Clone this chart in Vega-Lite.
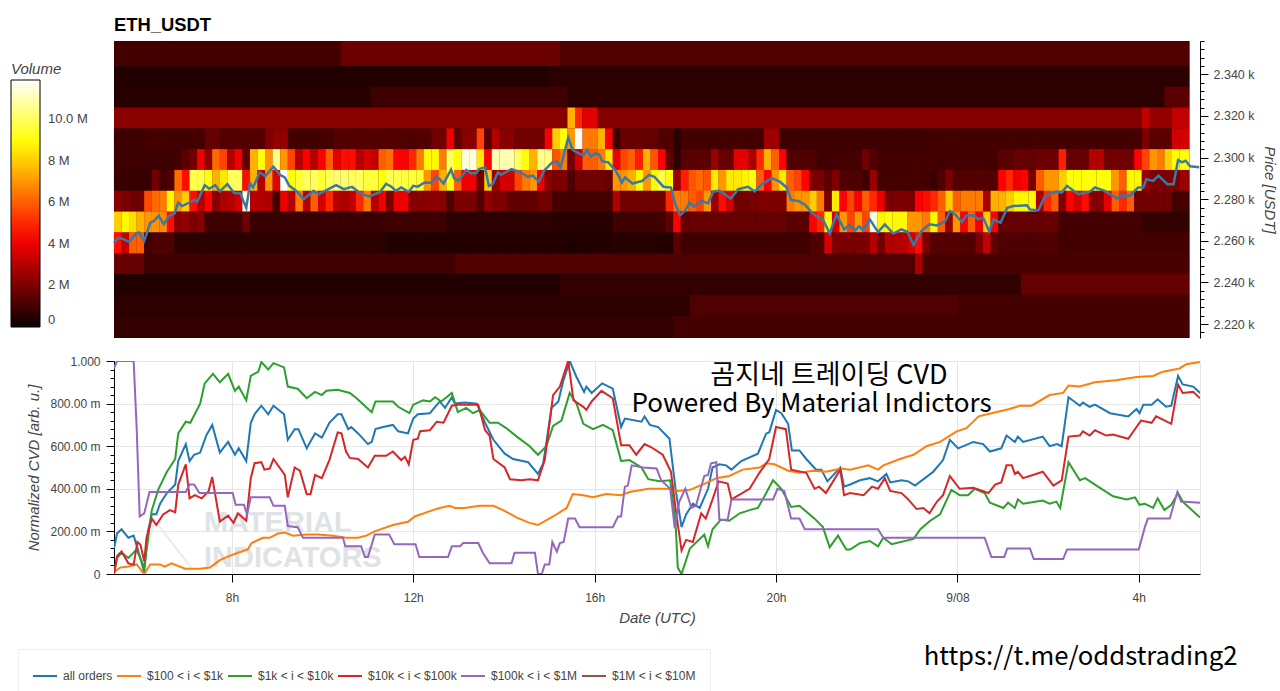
{"$schema":"https://vega.github.io/schema/vega-lite/v6.json","background":"white","padding":{"left":11,"top":15,"right":0,"bottom":0},"config":{"font":"Liberation Sans"},"bounds":"flush","spacing":23,
"datasets":{
"back":[{"m":324,"e":1747,"p":2200,"p2":2360,"v":0.8}],
"dark":[
{"m":324,"e":624,"p":2359,"v":1},{"m":624,"e":914,"p":2359,"v":1.7},{"m":914,"e":1747,"p":2359,"v":1.2},
{"m":324,"e":624,"p":2349,"v":1},{"m":624,"e":914,"p":2349,"v":1.7},{"m":914,"e":1747,"p":2349,"v":1.2},
{"m":324,"e":900,"p":2339,"v":0.4},{"m":900,"e":1747,"p":2339,"v":0.6},
{"m":324,"e":664,"p":2329,"v":0.5},{"m":664,"e":924,"p":2329,"v":0.9},{"m":924,"e":1714,"p":2329,"v":0.6},{"m":1714,"e":1747,"p":2329,"v":1.4},
{"m":324,"e":924,"p":2319,"v":2.2},{"m":924,"e":934,"p":2319,"v":7.5},{"m":934,"e":944,"p":2319,"v":5},{"m":944,"e":964,"p":2319,"v":3.8},{"m":964,"e":1684,"p":2319,"v":2.1},{"m":1684,"e":1694,"p":2319,"v":3.2},{"m":1694,"e":1724,"p":2319,"v":2.4},{"m":1724,"e":1747,"p":2319,"v":3.2},
{"m":324,"e":364,"p":2249,"v":1.6},{"m":364,"e":774,"p":2249,"v":0.9},{"m":774,"e":1384,"p":2249,"v":1.2},{"m":1384,"e":1394,"p":2249,"v":2.8},{"m":1394,"e":1747,"p":2249,"v":1.1},
{"m":324,"e":914,"p":2239,"v":0.4},{"m":914,"e":1524,"p":2239,"v":0.7},{"m":1524,"e":1747,"p":2239,"v":1.6},
{"m":324,"e":1086,"p":2229,"v":0.6},{"m":1086,"e":1440,"p":2229,"v":1.2},{"m":1440,"e":1747,"p":2229,"v":1},
{"m":324,"e":1064,"p":2219,"v":0.7},{"m":1064,"e":1747,"p":2219,"v":1},
{"m":324,"e":1064,"p":2209,"v":0.7},{"m":1064,"e":1747,"p":2209,"v":1},
{"m":1742,"e":1747,"p":2309,"v":3.5},{"m":1742,"e":1747,"p":2299,"v":9},{"m":1742,"e":1747,"p":2289,"v":2.5},{"m":1742,"e":1747,"p":2279,"v":1},{"m":1742,"e":1747,"p":2269,"v":0.7},{"m":1742,"e":1747,"p":2259,"v":1}
],
"cols":[
{"m":329,"2309":0.9,"2299":0.9,"2289":0.8,"2279":2.2,"2269":8,"2259":4.5},
{"m":339,"2309":0.9,"2299":0.9,"2289":0.8,"2279":2,"2269":8.8,"2259":3.2},
{"m":349,"2309":0.9,"2299":0.9,"2289":0.8,"2279":1.8,"2269":8.3,"2259":6},
{"m":359,"2309":0.9,"2299":0.9,"2289":0.8,"2279":1.8,"2269":7.5,"2259":6},
{"m":369,"2309":1,"2299":0.9,"2289":0.8,"2279":5.6,"2269":7,"2259":1},
{"m":379,"2309":1,"2299":0.9,"2289":1.8,"2279":6.2,"2269":7,"2259":1.2},
{"m":389,"2309":1,"2299":0.9,"2289":1,"2279":6.5,"2269":6.8,"2259":1.2},
{"m":399,"2309":1,"2299":0.9,"2289":1.2,"2279":8.8,"2269":4.5,"2259":1.2},
{"m":409,"2309":1,"2299":1,"2289":6.2,"2279":7,"2269":2.2,"2259":0.6},
{"m":419,"2309":1,"2299":1.4,"2289":4.5,"2279":8,"2269":2.4,"2259":0.6},
{"m":429,"2309":1,"2299":1.8,"2289":9.8,"2279":4.5,"2269":2,"2259":0.6},
{"m":439,"2309":1,"2299":4,"2289":9.8,"2279":3,"2269":2.2,"2259":0.6},
{"m":449,"2309":1.6,"2299":2.4,"2289":9,"2279":4.3,"2269":0.9,"2259":0.6},
{"m":459,"2309":1.6,"2299":6.2,"2289":7.5,"2279":2.2,"2269":0.9,"2259":0.6},
{"m":469,"2309":1.3,"2299":5.5,"2289":8.5,"2279":2.8,"2269":0.9,"2259":0.6},
{"m":479,"2309":1.3,"2299":3,"2289":10,"2279":3,"2269":0.9,"2259":0.6},
{"m":489,"2309":1.3,"2299":4,"2289":10,"2279":3.5,"2269":0.9,"2259":0.6},
{"m":499,"2309":1.3,"2299":1.5,"2289":4.5,"2279":11.5,"2269":1.8,"2259":0.6},
{"m":509,"2309":1.3,"2299":7.5,"2289":7.5,"2279":3,"2269":0.8,"2259":0.6},
{"m":519,"2309":1.3,"2299":9,"2289":3,"2279":3,"2269":0.8,"2259":0.6},
{"m":529,"2309":2,"2299":7,"2289":7,"2279":2.8,"2269":0.8,"2259":0.6},
{"m":539,"2309":2.4,"2299":10.5,"2289":3.8,"2279":1,"2269":0.8,"2259":0.6},
{"m":549,"2309":2.4,"2299":7,"2289":11.8,"2279":4,"2269":0.8,"2259":0.6},
{"m":559,"2309":1,"2299":5.5,"2289":9,"2279":3,"2269":0.8,"2259":0.6},
{"m":569,"2309":1,"2299":3,"2289":9.5,"2279":6.5,"2269":0.8,"2259":0.6},
{"m":579,"2309":1,"2299":4.3,"2289":10,"2279":3,"2269":0.8,"2259":0.6},
{"m":589,"2309":1,"2299":3,"2289":10,"2279":6,"2269":0.8,"2259":0.6},
{"m":599,"2309":1,"2299":4.3,"2289":9.5,"2279":3.5,"2269":0.8,"2259":0.6},
{"m":609,"2309":1,"2299":6,"2289":10,"2279":5,"2269":0.8,"2259":0.6},
{"m":619,"2309":1.3,"2299":3.8,"2289":10.2,"2279":3,"2269":0.8,"2259":0.6},
{"m":629,"2309":1.3,"2299":4.5,"2289":10.2,"2279":2.8,"2269":0.8,"2259":0.6},
{"m":639,"2309":1.3,"2299":4.5,"2289":10,"2279":3.2,"2269":0.8,"2259":0.6},
{"m":649,"2309":1.3,"2299":3,"2289":10,"2279":5,"2269":0.8,"2259":0.6},
{"m":659,"2309":1.3,"2299":3.6,"2289":9.6,"2279":6.5,"2269":0.8,"2259":0.6},
{"m":669,"2309":1.3,"2299":3.2,"2289":9.6,"2279":3,"2269":0.8,"2259":0.6},
{"m":679,"2309":1.3,"2299":6,"2289":9,"2279":4,"2269":0.8,"2259":0.6},
{"m":689,"2309":1.3,"2299":6.3,"2289":9.8,"2279":2,"2269":0.9,"2259":0.4},
{"m":699,"2309":1.3,"2299":4.3,"2289":9.8,"2279":4,"2269":0.9,"2259":0.4},
{"m":709,"2309":1.2,"2299":4.3,"2289":9.6,"2279":4,"2269":0.9,"2259":0.4},
{"m":719,"2309":1.2,"2299":5,"2289":9.6,"2279":2.2,"2269":0.9,"2259":0.4},
{"m":729,"2309":1.3,"2299":6.5,"2289":9.5,"2279":2.2,"2269":0.9,"2259":0.4},
{"m":739,"2309":1.3,"2299":8.8,"2289":7,"2279":2.2,"2269":0.9,"2259":0.4},
{"m":749,"2309":1.8,"2299":8.8,"2289":5.5,"2279":2.2,"2269":0.9,"2259":0.4},
{"m":759,"2309":1.8,"2299":6.5,"2289":7.5,"2279":2.2,"2269":0.9,"2259":0.4},
{"m":769,"2309":4,"2299":10,"2289":9,"2279":1.2,"2269":0.6,"2259":0.4},
{"m":779,"2309":1.5,"2299":9,"2289":6,"2279":2,"2269":0.6,"2259":0.4},
{"m":789,"2309":2.2,"2299":11.5,"2289":4,"2279":2,"2269":0.6,"2259":0.4},
{"m":799,"2309":2.2,"2299":11.5,"2289":4,"2279":2,"2269":0.6,"2259":0.4},
{"m":809,"2309":5.5,"2299":8.5,"2289":1.8,"2279":1.2,"2269":0.6,"2259":0.4},
{"m":819,"2309":1.4,"2299":4.3,"2289":8,"2279":2.4,"2269":0.6,"2259":0.4},
{"m":829,"2309":3,"2299":11,"2289":2.5,"2279":2,"2269":0.6,"2259":0.4},
{"m":839,"2309":2.2,"2299":11,"2289":3.5,"2279":2,"2269":0.6,"2259":0.4},
{"m":849,"2309":2.2,"2299":11,"2289":3.5,"2279":1.5,"2269":0.6,"2259":0.4},
{"m":859,"2309":1.8,"2299":10,"2289":5.5,"2279":1.5,"2269":0.6,"2259":0.4},
{"m":869,"2309":1.8,"2299":9,"2289":6.5,"2279":1.5,"2269":0.6,"2259":0.4},
{"m":879,"2309":1.8,"2299":7.5,"2289":7,"2279":1.5,"2269":0.6,"2259":0.4},
{"m":889,"2309":1.8,"2299":10.5,"2289":4,"2279":1.8,"2269":0.6,"2259":0.4},
{"m":899,"2309":4.2,"2299":10.5,"2289":2.2,"2279":1.8,"2269":0.6,"2259":0.4},
{"m":909,"2309":8,"2299":5.8,"2289":2,"2279":1,"2269":0.5,"2259":0.4},
{"m":919,"2309":9,"2299":6.5,"2289":2,"2279":1,"2269":0.5,"2259":0.4},
{"m":929,"2309":7,"2299":1.8,"2289":1.2,"2279":1,"2269":0.5,"2259":0.3},
{"m":939,"2309":11.8,"2299":3.5,"2289":1.8,"2279":1,"2269":0.5,"2259":0.4},
{"m":949,"2309":6.5,"2299":6,"2289":1.8,"2279":1,"2269":0.5,"2259":0.4},
{"m":959,"2309":6.5,"2299":6,"2289":1.8,"2279":1,"2269":0.5,"2259":0.4},
{"m":969,"2309":7.5,"2299":6.5,"2289":1.8,"2279":1,"2269":0.5,"2259":0.4},
{"m":979,"2309":4.3,"2299":8.5,"2289":1.6,"2279":1,"2269":0.5,"2259":0.4},
{"m":989,"2309":0.9,"2299":4,"2289":7,"2279":3,"2269":0.9,"2259":0.5},
{"m":999,"2309":1.6,"2299":5.5,"2289":7,"2279":1.8,"2269":0.9,"2259":0.5},
{"m":1009,"2309":1.6,"2299":6,"2289":7.5,"2279":1.8,"2269":0.9,"2259":0.5},
{"m":1019,"2309":1.6,"2299":4.8,"2289":8.8,"2279":1.8,"2269":0.9,"2259":0.5},
{"m":1029,"2309":1.6,"2299":7.5,"2289":7,"2279":1.8,"2269":0.9,"2259":0.5},
{"m":1039,"2309":1.6,"2299":5.8,"2289":8.8,"2279":1.8,"2269":0.9,"2259":0.5},
{"m":1049,"2309":1.2,"2299":4.3,"2289":9.8,"2279":1.8,"2269":1,"2259":0.4},
{"m":1059,"2309":1.2,"2299":1.5,"2289":9,"2279":5,"2269":1.5,"2259":0.4},
{"m":1069,"2309":0.6,"2299":0.6,"2289":2.5,"2279":6.5,"2269":4.3,"2259":1.4},
{"m":1079,"2309":1,"2299":1.4,"2289":4.8,"2279":6.5,"2269":1.6,"2259":0.9},
{"m":1089,"2309":1,"2299":1.4,"2289":5.8,"2279":6,"2269":1.6,"2259":0.9},
{"m":1099,"2309":1,"2299":1.4,"2289":6.2,"2279":5.5,"2269":1.6,"2259":0.9},
{"m":1109,"2309":1,"2299":1.4,"2289":5.8,"2279":7,"2269":1.6,"2259":0.9},
{"m":1119,"2309":1,"2299":2.5,"2289":8.5,"2279":2.5,"2269":1.6,"2259":0.9},
{"m":1129,"2309":1,"2299":1.6,"2289":7,"2279":4.5,"2269":1.6,"2259":0.9},
{"m":1139,"2309":1,"2299":1.6,"2289":8.5,"2279":3.5,"2269":1.6,"2259":0.9},
{"m":1149,"2309":1,"2299":3.8,"2289":8.5,"2279":1.8,"2269":1.6,"2259":0.9},
{"m":1159,"2309":1,"2299":3.8,"2289":8.7,"2279":1.8,"2269":1.6,"2259":0.9},
{"m":1169,"2309":1,"2299":2.8,"2289":9,"2279":2,"2269":1.6,"2259":0.9},
{"m":1179,"2309":1,"2299":5,"2289":6,"2279":2,"2269":1.6,"2259":0.9},
{"m":1189,"2309":2.6,"2299":7.5,"2289":4.3,"2279":2,"2269":1.6,"2259":0.9},
{"m":1199,"2309":2.6,"2299":6,"2289":7,"2279":2,"2269":1.6,"2259":0.9},
{"m":1209,"2309":0.9,"2299":4.3,"2289":8.5,"2279":2,"2269":1.6,"2259":0.9},
{"m":1219,"2309":0.9,"2299":1.2,"2289":6,"2279":6.5,"2269":1.4,"2259":0.9},
{"m":1229,"2309":0.9,"2299":1.2,"2289":5.5,"2279":7,"2269":1.4,"2259":0.9},
{"m":1239,"2309":0.9,"2299":1.2,"2289":4.3,"2279":7,"2269":1.4,"2259":0.9},
{"m":1249,"2309":0.9,"2299":1.2,"2289":2,"2279":8,"2269":4.3,"2259":1.2},
{"m":1259,"2309":0.9,"2299":0.9,"2289":2,"2279":6.5,"2269":5,"2259":1.3},
{"m":1269,"2309":0.9,"2299":0.9,"2289":1.4,"2279":2,"2269":8.8,"2259":3.6},
{"m":1279,"2309":0.9,"2299":1,"2289":2,"2279":8.5,"2269":3.5,"2259":2},
{"m":1289,"2309":0.9,"2299":1,"2289":1.2,"2279":4.3,"2269":7,"2259":2},
{"m":1299,"2309":0.9,"2299":1,"2289":1.2,"2279":5.5,"2269":5.5,"2259":2},
{"m":1309,"2309":0.9,"2299":1,"2289":1.2,"2279":4.3,"2269":7,"2259":2},
{"m":1319,"2309":0.9,"2299":1.8,"2289":0.9,"2279":6,"2269":5.5,"2259":2},
{"m":1329,"2309":0.9,"2299":1.2,"2289":2.5,"2279":5,"2269":11.5,"2259":3},
{"m":1339,"2309":0.9,"2299":1,"2289":1,"2279":4,"2269":8.8,"2259":1.8},
{"m":1349,"2309":0.9,"2299":1,"2289":1,"2279":2,"2269":9,"2259":3},
{"m":1359,"2309":0.9,"2299":1,"2289":1,"2279":2,"2269":8.8,"2259":3},
{"m":1369,"2309":0.9,"2299":1,"2289":1,"2279":2,"2269":8.8,"2259":3},
{"m":1379,"2309":0.9,"2299":1,"2289":1,"2279":2,"2269":7,"2259":3.5},
{"m":1389,"2309":0.9,"2299":1,"2289":1,"2279":4.3,"2269":7,"2259":4.5},
{"m":1399,"2309":0.9,"2299":1,"2289":1,"2279":4.5,"2269":6.5,"2259":2},
{"m":1409,"2309":1,"2299":1,"2289":0.8,"2279":5,"2269":8.8,"2259":1.3},
{"m":1419,"2309":1,"2299":1,"2289":1.2,"2279":6,"2269":6,"2259":1.3},
{"m":1429,"2309":1,"2299":1,"2289":2,"2279":8,"2269":2.5,"2259":1.3},
{"m":1439,"2309":1,"2299":1,"2289":1.3,"2279":6,"2269":7,"2259":1.3},
{"m":1449,"2309":1,"2299":1,"2289":1.3,"2279":6.5,"2269":4.3,"2259":1.3},
{"m":1459,"2309":1,"2299":1,"2289":1.3,"2279":6.5,"2269":6,"2259":1.3},
{"m":1469,"2309":1,"2299":1,"2289":1.3,"2279":6.5,"2269":4,"2259":2},
{"m":1479,"2309":1,"2299":1,"2289":1.3,"2279":2.8,"2269":8,"2259":3.3},
{"m":1489,"2309":1,"2299":1,"2289":1.3,"2279":7.5,"2269":4.3,"2259":1.5},
{"m":1499,"2309":1,"2299":1.4,"2289":4.3,"2279":7.5,"2269":1.6,"2259":1.2},
{"m":1509,"2309":1,"2299":1.4,"2289":5,"2279":8,"2269":1.6,"2259":1.2},
{"m":1519,"2309":1,"2299":1.6,"2289":4,"2279":8.8,"2269":1.6,"2259":1.2},
{"m":1529,"2309":1,"2299":1.6,"2289":4.3,"2279":8.8,"2269":1.6,"2259":1.2},
{"m":1539,"2309":1,"2299":1.6,"2289":2,"2279":8.8,"2269":1.6,"2259":1.2},
{"m":1549,"2309":1,"2299":1.7,"2289":6,"2279":2.8,"2269":1.6,"2259":1.2},
{"m":1559,"2309":1,"2299":1.7,"2289":7,"2279":5,"2269":1.6,"2259":1.2},
{"m":1569,"2309":1,"2299":1.7,"2289":7,"2279":6,"2269":1.6,"2259":1.2},
{"m":1579,"2309":1,"2299":4.8,"2289":8,"2279":2,"2269":1,"2259":1},
{"m":1589,"2309":1,"2299":1.6,"2289":9,"2279":4.3,"2269":1,"2259":1},
{"m":1599,"2309":1,"2299":1.6,"2289":9,"2279":3.5,"2269":1,"2259":1},
{"m":1609,"2309":1,"2299":1.6,"2289":9,"2279":4.5,"2269":1,"2259":1},
{"m":1619,"2309":1,"2299":3,"2289":9,"2279":2.2,"2269":1,"2259":1},
{"m":1629,"2309":1,"2299":3,"2289":9,"2279":2.2,"2269":1,"2259":1},
{"m":1639,"2309":1,"2299":1.8,"2289":9,"2279":3.8,"2269":1,"2259":1},
{"m":1649,"2309":1,"2299":1.8,"2289":7,"2279":6,"2269":1,"2259":1},
{"m":1659,"2309":1,"2299":1.8,"2289":6,"2279":5,"2269":1,"2259":1},
{"m":1669,"2309":1,"2299":1.8,"2289":8.8,"2279":6,"2269":1,"2259":1},
{"m":1679,"2309":1,"2299":4.3,"2289":8.8,"2279":1.8,"2269":1,"2259":1},
{"m":1689,"2309":2,"2299":5.5,"2289":2.5,"2279":1.8,"2269":0.7,"2259":1},
{"m":1699,"2309":1.4,"2299":7,"2289":2,"2279":1.8,"2269":0.7,"2259":1},
{"m":1709,"2309":1.4,"2299":6.5,"2289":2,"2279":1.8,"2269":0.7,"2259":1},
{"m":1719,"2309":1.4,"2299":8,"2289":2,"2279":1.8,"2269":0.7,"2259":1},
{"m":1729,"2309":3.5,"2299":9,"2289":2,"2279":1,"2269":0.7,"2259":1},
{"m":1739,"2309":3.5,"2299":9,"2289":2.5,"2279":1,"2269":0.7,"2259":1}
],
"price":[{"m":324,"p":2259},{"m":329,"p":2261.4},{"m":335,"p":2261},{"m":344,"p":2259.5},{"m":353,"p":2263.5},{"m":357,"p":2264},{"m":364,"p":2260},{"m":372,"p":2268.7},{"m":377,"p":2269.5},{"m":383,"p":2272},{"m":390,"p":2268},{"m":397,"p":2272},{"m":404,"p":2273},{"m":409,"p":2278.4},{"m":414,"p":2276.7},{"m":424,"p":2278.4},{"m":430,"p":2279.6},{"m":434,"p":2278.7},{"m":444,"p":2286.7},{"m":450,"p":2285},{"m":458,"p":2286.7},{"m":464,"p":2283.7},{"m":474,"p":2287.2},{"m":483,"p":2283},{"m":491,"p":2282.9},{"m":499,"p":2275.8},{"m":504,"p":2287.7},{"m":508,"p":2285.6},{"m":517,"p":2292.9},{"m":524,"p":2291},{"m":535,"p":2295.6},{"m":544,"p":2291.6},{"m":550,"p":2290.5},{"m":556,"p":2286.4},{"m":566,"p":2283.7},{"m":575,"p":2280},{"m":588,"p":2284},{"m":595,"p":2282.4},{"m":606,"p":2284.5},{"m":618,"p":2286.7},{"m":628,"p":2284.8},{"m":639,"p":2285.9},{"m":652,"p":2282.4},{"m":662,"p":2281.3},{"m":676,"p":2283.5},{"m":684,"p":2287.4},{"m":691,"p":2286},{"m":697,"p":2284},{"m":704,"p":2285.6},{"m":714,"p":2283.5},{"m":720,"p":2286.4},{"m":726,"p":2286},{"m":735,"p":2288},{"m":743,"p":2287.9},{"m":750,"p":2290.5},{"m":754,"p":2290},{"m":760,"p":2287.5},{"m":770,"p":2294.2},{"m":774,"p":2290},{"m":780,"p":2289},{"m":790,"p":2294},{"m":796,"p":2292.4},{"m":803,"p":2292.4},{"m":807,"p":2294.5},{"m":815,"p":2295.3},{"m":820,"p":2286.4},{"m":825,"p":2287.2},{"m":832,"p":2292.9},{"m":836,"p":2291.7},{"m":850,"p":2294.5},{"m":862,"p":2292.9},{"m":871,"p":2290.8},{"m":878,"p":2291.3},{"m":886,"p":2288.4},{"m":893,"p":2293.7},{"m":904,"p":2297.7},{"m":910,"p":2298},{"m":915,"p":2295.3},{"m":925,"p":2309.5},{"m":931,"p":2303.7},{"m":939,"p":2302},{"m":945,"p":2301},{"m":950,"p":2303.7},{"m":955,"p":2300.5},{"m":961,"p":2302},{"m":966,"p":2301.4},{"m":970,"p":2298.2},{"m":978,"p":2297.7},{"m":988,"p":2293.7},{"m":996,"p":2288},{"m":1000,"p":2290.5},{"m":1010,"p":2287.5},{"m":1023,"p":2288.8},{"m":1032,"p":2291.7},{"m":1039,"p":2290.8},{"m":1044,"p":2288.8},{"m":1051,"p":2286},{"m":1061,"p":2285.6},{"m":1066,"p":2278.4},{"m":1073,"p":2272.2},{"m":1079,"p":2274.3},{"m":1086,"p":2278.4},{"m":1092,"p":2276.4},{"m":1101,"p":2279.2},{"m":1110,"p":2278},{"m":1117,"p":2283.7},{"m":1125,"p":2284},{"m":1132,"p":2282.4},{"m":1140,"p":2280.3},{"m":1150,"p":2284.8},{"m":1163,"p":2285.9},{"m":1172,"p":2283.7},{"m":1181,"p":2287.2},{"m":1194,"p":2290.1},{"m":1205,"p":2288.4},{"m":1214,"p":2285.6},{"m":1220,"p":2279.6},{"m":1229,"p":2279.2},{"m":1238,"p":2277.5},{"m":1247,"p":2273.8},{"m":1253,"p":2271.9},{"m":1262,"p":2270.3},{"m":1271,"p":2263.5},{"m":1280,"p":2272.7},{"m":1290,"p":2265.5},{"m":1297,"p":2267.4},{"m":1305,"p":2265.1},{"m":1310,"p":2267},{"m":1315,"p":2265.1},{"m":1324,"p":2270.3},{"m":1335,"p":2264.2},{"m":1344,"p":2267.9},{"m":1355,"p":2263.5},{"m":1366,"p":2265.5},{"m":1374,"p":2264.2},{"m":1382,"p":2258},{"m":1392,"p":2264.6},{"m":1403,"p":2267.9},{"m":1413,"p":2267.4},{"m":1424,"p":2269.5},{"m":1430,"p":2274.3},{"m":1437,"p":2272.7},{"m":1446,"p":2269},{"m":1452,"p":2272.2},{"m":1461,"p":2272.2},{"m":1468,"p":2270.3},{"m":1474,"p":2271.1},{"m":1482,"p":2264.6},{"m":1488,"p":2270.3},{"m":1497,"p":2268.7},{"m":1506,"p":2275.9},{"m":1514,"p":2276.7},{"m":1532,"p":2277.1},{"m":1536,"p":2275.1},{"m":1547,"p":2274.6},{"m":1556,"p":2281.6},{"m":1571,"p":2283.7},{"m":1578,"p":2283.2},{"m":1585,"p":2286.4},{"m":1600,"p":2282.4},{"m":1615,"p":2283.5},{"m":1622,"p":2285.6},{"m":1635,"p":2284},{"m":1651,"p":2280.3},{"m":1657,"p":2281.9},{"m":1668,"p":2281.6},{"m":1679,"p":2285.6},{"m":1686,"p":2285.6},{"m":1690,"p":2289.6},{"m":1699,"p":2288.8},{"m":1706,"p":2291.3},{"m":1718,"p":2287.2},{"m":1726,"p":2287.2},{"m":1732,"p":2298.8},{"m":1737,"p":2297.7},{"m":1742,"p":2298.5},{"m":1748,"p":2295.8},{"m":1760,"p":2295.3}],
"lines":[
{"s":"a","m":324,"v":0.12},{"s":"a","m":328,"v":0.19},{"s":"a","m":334,"v":0.21},{"s":"a","m":343,"v":0.17},{"s":"a","m":350,"v":0.18},{"s":"a","m":356,"v":0.11},{"s":"a","m":364,"v":0.01},{"s":"a","m":369,"v":0.2},{"s":"a","m":374,"v":0.28},{"s":"a","m":380,"v":0.28},{"s":"a","m":385,"v":0.33},{"s":"a","m":394,"v":0.38},{"s":"a","m":405,"v":0.42},{"s":"a","m":409,"v":0.53},{"s":"a","m":419,"v":0.61},{"s":"a","m":424,"v":0.53},{"s":"a","m":430,"v":0.56},{"s":"a","m":438,"v":0.57},{"s":"a","m":446,"v":0.65},{"s":"a","m":454,"v":0.7},{"s":"a","m":464,"v":0.57},{"s":"a","m":475,"v":0.62},{"s":"a","m":484,"v":0.56},{"s":"a","m":489,"v":0.59},{"s":"a","m":499,"v":0.53},{"s":"a","m":505,"v":0.71},{"s":"a","m":510,"v":0.75},{"s":"a","m":519,"v":0.79},{"s":"a","m":528,"v":0.75},{"s":"a","m":535,"v":0.79},{"s":"a","m":549,"v":0.75},{"s":"a","m":554,"v":0.63},{"s":"a","m":563,"v":0.68},{"s":"a","m":568,"v":0.68},{"s":"a","m":579,"v":0.59},{"s":"a","m":590,"v":0.66},{"s":"a","m":599,"v":0.64},{"s":"a","m":609,"v":0.71},{"s":"a","m":620,"v":0.75},{"s":"a","m":625,"v":0.75},{"s":"a","m":634,"v":0.68},{"s":"a","m":638,"v":0.69},{"s":"a","m":647,"v":0.66},{"s":"a","m":660,"v":0.61},{"s":"a","m":665,"v":0.62},{"s":"a","m":670,"v":0.68},{"s":"a","m":680,"v":0.69},{"s":"a","m":693,"v":0.7},{"s":"a","m":700,"v":0.67},{"s":"a","m":713,"v":0.66},{"s":"a","m":720,"v":0.73},{"s":"a","m":726,"v":0.75},{"s":"a","m":742,"v":0.755},{"s":"a","m":749,"v":0.785},{"s":"a","m":755,"v":0.81},{"s":"a","m":762,"v":0.78},{"s":"a","m":771,"v":0.83},{"s":"a","m":775,"v":0.8},{"s":"a","m":788,"v":0.805},{"s":"a","m":804,"v":0.8},{"s":"a","m":815,"v":0.71},{"s":"a","m":826,"v":0.63},{"s":"a","m":841,"v":0.565},{"s":"a","m":852,"v":0.54},{"s":"a","m":872,"v":0.525},{"s":"a","m":885,"v":0.47},{"s":"a","m":892,"v":0.52},{"s":"a","m":903,"v":0.78},{"s":"a","m":912,"v":0.81},{"s":"a","m":918,"v":0.9},{"s":"a","m":927,"v":1},{"s":"a","m":936,"v":0.925},{"s":"a","m":946,"v":0.855},{"s":"a","m":949,"v":0.88},{"s":"a","m":956,"v":0.85},{"s":"a","m":970,"v":0.895},{"s":"a","m":984,"v":0.87},{"s":"a","m":995,"v":0.69},{"s":"a","m":1000,"v":0.73},{"s":"a","m":1022,"v":0.715},{"s":"a","m":1026,"v":0.74},{"s":"a","m":1033,"v":0.7},{"s":"a","m":1044,"v":0.69},{"s":"a","m":1059,"v":0.635},{"s":"a","m":1067,"v":0.4},{"s":"a","m":1075,"v":0.22},{"s":"a","m":1081,"v":0.28},{"s":"a","m":1090,"v":0.33},{"s":"a","m":1099,"v":0.31},{"s":"a","m":1110,"v":0.4},{"s":"a","m":1116,"v":0.5},{"s":"a","m":1125,"v":0.515},{"s":"a","m":1134,"v":0.51},{"s":"a","m":1141,"v":0.49},{"s":"a","m":1154,"v":0.53},{"s":"a","m":1176,"v":0.565},{"s":"a","m":1187,"v":0.66},{"s":"a","m":1191,"v":0.665},{"s":"a","m":1200,"v":0.77},{"s":"a","m":1207,"v":0.755},{"s":"a","m":1216,"v":0.705},{"s":"a","m":1221,"v":0.58},{"s":"a","m":1231,"v":0.58},{"s":"a","m":1240,"v":0.54},{"s":"a","m":1253,"v":0.49},{"s":"a","m":1260,"v":0.49},{"s":"a","m":1268,"v":0.435},{"s":"a","m":1285,"v":0.5},{"s":"a","m":1290,"v":0.41},{"s":"a","m":1298,"v":0.42},{"s":"a","m":1311,"v":0.44},{"s":"a","m":1324,"v":0.45},{"s":"a","m":1335,"v":0.435},{"s":"a","m":1346,"v":0.47},{"s":"a","m":1351,"v":0.43},{"s":"a","m":1366,"v":0.44},{"s":"a","m":1375,"v":0.435},{"s":"a","m":1384,"v":0.415},{"s":"a","m":1397,"v":0.45},{"s":"a","m":1408,"v":0.48},{"s":"a","m":1421,"v":0.535},{"s":"a","m":1430,"v":0.63},{"s":"a","m":1441,"v":0.59},{"s":"a","m":1461,"v":0.62},{"s":"a","m":1474,"v":0.61},{"s":"a","m":1483,"v":0.575},{"s":"a","m":1498,"v":0.59},{"s":"a","m":1505,"v":0.65},{"s":"a","m":1516,"v":0.62},{"s":"a","m":1520,"v":0.645},{"s":"a","m":1527,"v":0.62},{"s":"a","m":1553,"v":0.645},{"s":"a","m":1562,"v":0.6},{"s":"a","m":1572,"v":0.61},{"s":"a","m":1578,"v":0.6},{"s":"a","m":1587,"v":0.83},{"s":"a","m":1602,"v":0.79},{"s":"a","m":1606,"v":0.805},{"s":"a","m":1615,"v":0.785},{"s":"a","m":1622,"v":0.795},{"s":"a","m":1642,"v":0.755},{"s":"a","m":1666,"v":0.74},{"s":"a","m":1677,"v":0.775},{"s":"a","m":1681,"v":0.755},{"s":"a","m":1686,"v":0.795},{"s":"a","m":1697,"v":0.795},{"s":"a","m":1705,"v":0.82},{"s":"a","m":1716,"v":0.785},{"s":"a","m":1723,"v":0.79},{"s":"a","m":1732,"v":0.93},{"s":"a","m":1738,"v":0.89},{"s":"a","m":1752,"v":0.88},{"s":"a","m":1761,"v":0.85},
{"s":"b","m":324,"v":0.01},{"s":"b","m":332,"v":0.03},{"s":"b","m":343,"v":0.035},{"s":"b","m":354,"v":0.045},{"s":"b","m":364,"v":0},{"s":"b","m":372,"v":0.045},{"s":"b","m":385,"v":0.045},{"s":"b","m":391,"v":0.035},{"s":"b","m":400,"v":0.05},{"s":"b","m":418,"v":0.025},{"s":"b","m":438,"v":0.025},{"s":"b","m":451,"v":0.03},{"s":"b","m":464,"v":0.065},{"s":"b","m":477,"v":0.085},{"s":"b","m":488,"v":0.1},{"s":"b","m":501,"v":0.115},{"s":"b","m":506,"v":0.145},{"s":"b","m":521,"v":0.17},{"s":"b","m":530,"v":0.17},{"s":"b","m":541,"v":0.19},{"s":"b","m":550,"v":0.195},{"s":"b","m":561,"v":0.18},{"s":"b","m":579,"v":0.185},{"s":"b","m":594,"v":0.185},{"s":"b","m":614,"v":0.18},{"s":"b","m":631,"v":0.17},{"s":"b","m":647,"v":0.17},{"s":"b","m":658,"v":0.18},{"s":"b","m":669,"v":0.2},{"s":"b","m":693,"v":0.23},{"s":"b","m":713,"v":0.245},{"s":"b","m":722,"v":0.27},{"s":"b","m":742,"v":0.295},{"s":"b","m":755,"v":0.31},{"s":"b","m":768,"v":0.32},{"s":"b","m":775,"v":0.31},{"s":"b","m":788,"v":0.31},{"s":"b","m":808,"v":0.32},{"s":"b","m":826,"v":0.32},{"s":"b","m":839,"v":0.3},{"s":"b","m":857,"v":0.265},{"s":"b","m":874,"v":0.24},{"s":"b","m":885,"v":0.23},{"s":"b","m":905,"v":0.27},{"s":"b","m":923,"v":0.31},{"s":"b","m":931,"v":0.375},{"s":"b","m":945,"v":0.37},{"s":"b","m":958,"v":0.36},{"s":"b","m":975,"v":0.375},{"s":"b","m":995,"v":0.37},{"s":"b","m":1006,"v":0.385},{"s":"b","m":1031,"v":0.4},{"s":"b","m":1057,"v":0.4},{"s":"b","m":1070,"v":0.39},{"s":"b","m":1086,"v":0.395},{"s":"b","m":1103,"v":0.42},{"s":"b","m":1121,"v":0.45},{"s":"b","m":1138,"v":0.46},{"s":"b","m":1156,"v":0.49},{"s":"b","m":1178,"v":0.5},{"s":"b","m":1187,"v":0.52},{"s":"b","m":1198,"v":0.515},{"s":"b","m":1216,"v":0.485},{"s":"b","m":1231,"v":0.475},{"s":"b","m":1249,"v":0.485},{"s":"b","m":1266,"v":0.48},{"s":"b","m":1286,"v":0.495},{"s":"b","m":1298,"v":0.49},{"s":"b","m":1322,"v":0.51},{"s":"b","m":1335,"v":0.49},{"s":"b","m":1342,"v":0.51},{"s":"b","m":1364,"v":0.54},{"s":"b","m":1382,"v":0.56},{"s":"b","m":1399,"v":0.6},{"s":"b","m":1417,"v":0.62},{"s":"b","m":1439,"v":0.67},{"s":"b","m":1452,"v":0.685},{"s":"b","m":1468,"v":0.74},{"s":"b","m":1485,"v":0.755},{"s":"b","m":1509,"v":0.775},{"s":"b","m":1523,"v":0.79},{"s":"b","m":1538,"v":0.79},{"s":"b","m":1562,"v":0.84},{"s":"b","m":1580,"v":0.85},{"s":"b","m":1587,"v":0.885},{"s":"b","m":1602,"v":0.88},{"s":"b","m":1622,"v":0.9},{"s":"b","m":1650,"v":0.91},{"s":"b","m":1677,"v":0.925},{"s":"b","m":1699,"v":0.93},{"s":"b","m":1712,"v":0.95},{"s":"b","m":1734,"v":0.965},{"s":"b","m":1743,"v":0.985},{"s":"b","m":1761,"v":0.995},
{"s":"c","m":324,"v":0},{"s":"c","m":328,"v":0.075},{"s":"c","m":334,"v":0.1},{"s":"c","m":343,"v":0.075},{"s":"c","m":354,"v":0.115},{"s":"c","m":364,"v":0.03},{"s":"c","m":374,"v":0.3},{"s":"c","m":383,"v":0.4},{"s":"c","m":394,"v":0.48},{"s":"c","m":405,"v":0.54},{"s":"c","m":409,"v":0.66},{"s":"c","m":419,"v":0.715},{"s":"c","m":425,"v":0.71},{"s":"c","m":438,"v":0.8},{"s":"c","m":444,"v":0.895},{"s":"c","m":455,"v":0.94},{"s":"c","m":464,"v":0.9},{"s":"c","m":475,"v":0.94},{"s":"c","m":484,"v":0.86},{"s":"c","m":489,"v":0.88},{"s":"c","m":499,"v":0.815},{"s":"c","m":505,"v":0.93},{"s":"c","m":515,"v":0.95},{"s":"c","m":519,"v":0.995},{"s":"c","m":528,"v":0.96},{"s":"c","m":535,"v":0.99},{"s":"c","m":549,"v":0.97},{"s":"c","m":554,"v":0.88},{"s":"c","m":567,"v":0.87},{"s":"c","m":579,"v":0.825},{"s":"c","m":590,"v":0.855},{"s":"c","m":599,"v":0.84},{"s":"c","m":605,"v":0.86},{"s":"c","m":620,"v":0.865},{"s":"c","m":636,"v":0.85},{"s":"c","m":645,"v":0.825},{"s":"c","m":665,"v":0.76},{"s":"c","m":670,"v":0.81},{"s":"c","m":680,"v":0.81},{"s":"c","m":693,"v":0.81},{"s":"c","m":700,"v":0.785},{"s":"c","m":715,"v":0.755},{"s":"c","m":720,"v":0.795},{"s":"c","m":733,"v":0.815},{"s":"c","m":742,"v":0.81},{"s":"c","m":749,"v":0.83},{"s":"c","m":757,"v":0.81},{"s":"c","m":771,"v":0.85},{"s":"c","m":779,"v":0.76},{"s":"c","m":790,"v":0.78},{"s":"c","m":799,"v":0.755},{"s":"c","m":808,"v":0.77},{"s":"c","m":821,"v":0.71},{"s":"c","m":832,"v":0.71},{"s":"c","m":843,"v":0.685},{"s":"c","m":857,"v":0.645},{"s":"c","m":874,"v":0.6},{"s":"c","m":885,"v":0.56},{"s":"c","m":896,"v":0.6},{"s":"c","m":905,"v":0.695},{"s":"c","m":916,"v":0.72},{"s":"c","m":927,"v":0.85},{"s":"c","m":936,"v":0.8},{"s":"c","m":945,"v":0.705},{"s":"c","m":958,"v":0.68},{"s":"c","m":971,"v":0.7},{"s":"c","m":984,"v":0.675},{"s":"c","m":995,"v":0.53},{"s":"c","m":1006,"v":0.535},{"s":"c","m":1022,"v":0.5},{"s":"c","m":1031,"v":0.445},{"s":"c","m":1046,"v":0.435},{"s":"c","m":1060,"v":0.44},{"s":"c","m":1067,"v":0.245},{"s":"c","m":1070,"v":0.03},{"s":"c","m":1075,"v":0},{"s":"c","m":1086,"v":0.12},{"s":"c","m":1105,"v":0.185},{"s":"c","m":1110,"v":0.13},{"s":"c","m":1116,"v":0.21},{"s":"c","m":1127,"v":0.255},{"s":"c","m":1138,"v":0.25},{"s":"c","m":1152,"v":0.285},{"s":"c","m":1165,"v":0.3},{"s":"c","m":1176,"v":0.31},{"s":"c","m":1187,"v":0.38},{"s":"c","m":1196,"v":0.44},{"s":"c","m":1207,"v":0.4},{"s":"c","m":1220,"v":0.315},{"s":"c","m":1231,"v":0.32},{"s":"c","m":1251,"v":0.26},{"s":"c","m":1262,"v":0.22},{"s":"c","m":1271,"v":0.125},{"s":"c","m":1282,"v":0.18},{"s":"c","m":1293,"v":0.115},{"s":"c","m":1298,"v":0.115},{"s":"c","m":1311,"v":0.145},{"s":"c","m":1324,"v":0.155},{"s":"c","m":1335,"v":0.13},{"s":"c","m":1342,"v":0.17},{"s":"c","m":1353,"v":0.14},{"s":"c","m":1382,"v":0.165},{"s":"c","m":1391,"v":0.21},{"s":"c","m":1404,"v":0.25},{"s":"c","m":1417,"v":0.28},{"s":"c","m":1432,"v":0.395},{"s":"c","m":1443,"v":0.37},{"s":"c","m":1454,"v":0.37},{"s":"c","m":1463,"v":0.4},{"s":"c","m":1476,"v":0.38},{"s":"c","m":1483,"v":0.335},{"s":"c","m":1501,"v":0.31},{"s":"c","m":1507,"v":0.335},{"s":"c","m":1516,"v":0.31},{"s":"c","m":1520,"v":0.35},{"s":"c","m":1527,"v":0.33},{"s":"c","m":1553,"v":0.345},{"s":"c","m":1562,"v":0.33},{"s":"c","m":1571,"v":0.34},{"s":"c","m":1576,"v":0.31},{"s":"c","m":1587,"v":0.525},{"s":"c","m":1602,"v":0.44},{"s":"c","m":1609,"v":0.45},{"s":"c","m":1622,"v":0.42},{"s":"c","m":1646,"v":0.365},{"s":"c","m":1664,"v":0.35},{"s":"c","m":1675,"v":0.36},{"s":"c","m":1681,"v":0.325},{"s":"c","m":1688,"v":0.33},{"s":"c","m":1699,"v":0.31},{"s":"c","m":1705,"v":0.355},{"s":"c","m":1714,"v":0.3},{"s":"c","m":1723,"v":0.325},{"s":"c","m":1732,"v":0.38},{"s":"c","m":1738,"v":0.34},{"s":"c","m":1761,"v":0.265},
{"s":"d","m":324,"v":0},{"s":"d","m":328,"v":0.083},{"s":"d","m":334,"v":0.106},{"s":"d","m":343,"v":0.05},{"s":"d","m":350,"v":0.044},{"s":"d","m":355,"v":0.15},{"s":"d","m":359,"v":0.137},{"s":"d","m":364,"v":0.06},{"s":"d","m":367,"v":0.17},{"s":"d","m":374,"v":0.26},{"s":"d","m":380,"v":0.23},{"s":"d","m":389,"v":0.28},{"s":"d","m":398,"v":0.3},{"s":"d","m":405,"v":0.29},{"s":"d","m":409,"v":0.42},{"s":"d","m":419,"v":0.515},{"s":"d","m":424,"v":0.355},{"s":"d","m":431,"v":0.37},{"s":"d","m":440,"v":0.355},{"s":"d","m":449,"v":0.387},{"s":"d","m":454,"v":0.455},{"s":"d","m":464,"v":0.246},{"s":"d","m":475,"v":0.274},{"s":"d","m":482,"v":0.24},{"s":"d","m":488,"v":0.285},{"s":"d","m":499,"v":0.25},{"s":"d","m":505,"v":0.45},{"s":"d","m":510,"v":0.52},{"s":"d","m":519,"v":0.525},{"s":"d","m":523,"v":0.49},{"s":"d","m":530,"v":0.495},{"s":"d","m":535,"v":0.54},{"s":"d","m":550,"v":0.465},{"s":"d","m":554,"v":0.36},{"s":"d","m":563,"v":0.5},{"s":"d","m":570,"v":0.485},{"s":"d","m":579,"v":0.375},{"s":"d","m":584,"v":0.375},{"s":"d","m":590,"v":0.465},{"s":"d","m":599,"v":0.45},{"s":"d","m":609,"v":0.535},{"s":"d","m":620,"v":0.665},{"s":"d","m":625,"v":0.66},{"s":"d","m":631,"v":0.575},{"s":"d","m":636,"v":0.545},{"s":"d","m":647,"v":0.54},{"s":"d","m":660,"v":0.5},{"s":"d","m":669,"v":0.555},{"s":"d","m":684,"v":0.555},{"s":"d","m":693,"v":0.575},{"s":"d","m":704,"v":0.535},{"s":"d","m":709,"v":0.55},{"s":"d","m":714,"v":0.515},{"s":"d","m":720,"v":0.63},{"s":"d","m":726,"v":0.635},{"s":"d","m":729,"v":0.67},{"s":"d","m":742,"v":0.675},{"s":"d","m":751,"v":0.715},{"s":"d","m":760,"v":0.71},{"s":"d","m":771,"v":0.79},{"s":"d","m":779,"v":0.795},{"s":"d","m":806,"v":0.795},{"s":"d","m":815,"v":0.675},{"s":"d","m":821,"v":0.65},{"s":"d","m":826,"v":0.54},{"s":"d","m":841,"v":0.5},{"s":"d","m":848,"v":0.445},{"s":"d","m":863,"v":0.44},{"s":"d","m":874,"v":0.445},{"s":"d","m":885,"v":0.44},{"s":"d","m":894,"v":0.535},{"s":"d","m":905,"v":0.84},{"s":"d","m":914,"v":0.88},{"s":"d","m":925,"v":1},{"s":"d","m":932,"v":0.815},{"s":"d","m":945,"v":0.785},{"s":"d","m":949,"v":0.77},{"s":"d","m":956,"v":0.81},{"s":"d","m":969,"v":0.86},{"s":"d","m":984,"v":0.825},{"s":"d","m":995,"v":0.605},{"s":"d","m":1006,"v":0.605},{"s":"d","m":1015,"v":0.56},{"s":"d","m":1026,"v":0.61},{"s":"d","m":1035,"v":0.595},{"s":"d","m":1050,"v":0.56},{"s":"d","m":1061,"v":0.48},{"s":"d","m":1067,"v":0.31},{"s":"d","m":1075,"v":0.11},{"s":"d","m":1081,"v":0.16},{"s":"d","m":1090,"v":0.15},{"s":"d","m":1101,"v":0.285},{"s":"d","m":1107,"v":0.26},{"s":"d","m":1116,"v":0.35},{"s":"d","m":1124,"v":0.435},{"s":"d","m":1136,"v":0.425},{"s":"d","m":1141,"v":0.35},{"s":"d","m":1165,"v":0.4},{"s":"d","m":1178,"v":0.475},{"s":"d","m":1191,"v":0.54},{"s":"d","m":1200,"v":0.69},{"s":"d","m":1213,"v":0.68},{"s":"d","m":1220,"v":0.49},{"s":"d","m":1240,"v":0.475},{"s":"d","m":1251,"v":0.4},{"s":"d","m":1257,"v":0.41},{"s":"d","m":1266,"v":0.38},{"s":"d","m":1285,"v":0.49},{"s":"d","m":1290,"v":0.37},{"s":"d","m":1298,"v":0.38},{"s":"d","m":1316,"v":0.37},{"s":"d","m":1327,"v":0.41},{"s":"d","m":1335,"v":0.4},{"s":"d","m":1344,"v":0.45},{"s":"d","m":1351,"v":0.39},{"s":"d","m":1366,"v":0.38},{"s":"d","m":1375,"v":0.35},{"s":"d","m":1386,"v":0.305},{"s":"d","m":1395,"v":0.31},{"s":"d","m":1403,"v":0.285},{"s":"d","m":1413,"v":0.34},{"s":"d","m":1421,"v":0.37},{"s":"d","m":1430,"v":0.46},{"s":"d","m":1443,"v":0.4},{"s":"d","m":1461,"v":0.405},{"s":"d","m":1481,"v":0.38},{"s":"d","m":1490,"v":0.42},{"s":"d","m":1498,"v":0.43},{"s":"d","m":1505,"v":0.51},{"s":"d","m":1512,"v":0.51},{"s":"d","m":1516,"v":0.47},{"s":"d","m":1520,"v":0.48},{"s":"d","m":1527,"v":0.45},{"s":"d","m":1553,"v":0.48},{"s":"d","m":1567,"v":0.415},{"s":"d","m":1578,"v":0.44},{"s":"d","m":1587,"v":0.645},{"s":"d","m":1602,"v":0.65},{"s":"d","m":1606,"v":0.67},{"s":"d","m":1615,"v":0.65},{"s":"d","m":1622,"v":0.675},{"s":"d","m":1637,"v":0.65},{"s":"d","m":1646,"v":0.655},{"s":"d","m":1666,"v":0.635},{"s":"d","m":1677,"v":0.69},{"s":"d","m":1683,"v":0.72},{"s":"d","m":1697,"v":0.71},{"s":"d","m":1703,"v":0.74},{"s":"d","m":1723,"v":0.705},{"s":"d","m":1732,"v":0.89},{"s":"d","m":1738,"v":0.85},{"s":"d","m":1752,"v":0.855},{"s":"d","m":1761,"v":0.825},
{"s":"e","m":324,"v":0.965},{"s":"e","m":328,"v":1},{"s":"e","m":350,"v":1},{"s":"e","m":354,"v":0.685},{"s":"e","m":358,"v":0.27},{"s":"e","m":364,"v":0.285},{"s":"e","m":371,"v":0.385},{"s":"e","m":419,"v":0.385},{"s":"e","m":424,"v":0.42},{"s":"e","m":430,"v":0.42},{"s":"e","m":437,"v":0.38},{"s":"e","m":481,"v":0.38},{"s":"e","m":485,"v":0.325},{"s":"e","m":496,"v":0.325},{"s":"e","m":500,"v":0.28},{"s":"e","m":505,"v":0.36},{"s":"e","m":530,"v":0.36},{"s":"e","m":535,"v":0.32},{"s":"e","m":550,"v":0.32},{"s":"e","m":554,"v":0.225},{"s":"e","m":567,"v":0.22},{"s":"e","m":574,"v":0.17},{"s":"e","m":627,"v":0.17},{"s":"e","m":630,"v":0.13},{"s":"e","m":651,"v":0.13},{"s":"e","m":656,"v":0.08},{"s":"e","m":660,"v":0.08},{"s":"e","m":669,"v":0.185},{"s":"e","m":688,"v":0.185},{"s":"e","m":695,"v":0.14},{"s":"e","m":723,"v":0.14},{"s":"e","m":728,"v":0.08},{"s":"e","m":766,"v":0.08},{"s":"e","m":771,"v":0.13},{"s":"e","m":782,"v":0.13},{"s":"e","m":786,"v":0.145},{"s":"e","m":806,"v":0.145},{"s":"e","m":812,"v":0.1},{"s":"e","m":821,"v":0.05},{"s":"e","m":850,"v":0.05},{"s":"e","m":854,"v":0.1},{"s":"e","m":881,"v":0.1},{"s":"e","m":885,"v":0},{"s":"e","m":890,"v":0},{"s":"e","m":894,"v":0.045},{"s":"e","m":900,"v":0.045},{"s":"e","m":904,"v":0.15},{"s":"e","m":910,"v":0.105},{"s":"e","m":914,"v":0.145},{"s":"e","m":919,"v":0.15},{"s":"e","m":925,"v":0.26},{"s":"e","m":934,"v":0.26},{"s":"e","m":940,"v":0.22},{"s":"e","m":984,"v":0.22},{"s":"e","m":991,"v":0.27},{"s":"e","m":995,"v":0.27},{"s":"e","m":1000,"v":0.41},{"s":"e","m":1004,"v":0.415},{"s":"e","m":1009,"v":0.51},{"s":"e","m":1024,"v":0.5},{"s":"e","m":1042,"v":0.495},{"s":"e","m":1048,"v":0.44},{"s":"e","m":1060,"v":0.4},{"s":"e","m":1066,"v":0.215},{"s":"e","m":1072,"v":0.34},{"s":"e","m":1080,"v":0.4},{"s":"e","m":1088,"v":0.31},{"s":"e","m":1094,"v":0.32},{"s":"e","m":1105,"v":0.46},{"s":"e","m":1110,"v":0.465},{"s":"e","m":1114,"v":0.52},{"s":"e","m":1121,"v":0.525},{"s":"e","m":1125,"v":0.255},{"s":"e","m":1136,"v":0.255},{"s":"e","m":1141,"v":0.35},{"s":"e","m":1196,"v":0.35},{"s":"e","m":1202,"v":0.4},{"s":"e","m":1211,"v":0.39},{"s":"e","m":1220,"v":0.26},{"s":"e","m":1231,"v":0.26},{"s":"e","m":1238,"v":0.21},{"s":"e","m":1335,"v":0.21},{"s":"e","m":1342,"v":0.17},{"s":"e","m":1476,"v":0.17},{"s":"e","m":1485,"v":0.08},{"s":"e","m":1502,"v":0.08},{"s":"e","m":1506,"v":0.12},{"s":"e","m":1536,"v":0.12},{"s":"e","m":1541,"v":0.07},{"s":"e","m":1580,"v":0.07},{"s":"e","m":1585,"v":0.115},{"s":"e","m":1680,"v":0.115},{"s":"e","m":1688,"v":0.22},{"s":"e","m":1692,"v":0.26},{"s":"e","m":1721,"v":0.26},{"s":"e","m":1731,"v":0.385},{"s":"e","m":1736,"v":0.34},{"s":"e","m":1761,"v":0.335}
]},
"vconcat":[
{"width":1086,"height":297,"title":{"text":"ETH_USDT","anchor":"start","frame":"group","fontSize":18.4,"fontWeight":"bold","color":"black","offset":1},"view":{"stroke":null},
"layer":[
{"data":{"name":"back"},"mark":{"type":"rect","clip":true},
"encoding":{"x":{"field":"m","type":"quantitative","scale":{"domain":[324,1761],"nice":false,"zero":false},"axis":null},"x2":{"field":"e"},
"y":{"field":"p","type":"quantitative","scale":{"domain":[2213.3,2356],"nice":false,"zero":false},
"axis":{"orient":"right","title":"Price [USDT]","titleFontStyle":"italic","titleFontWeight":"normal","titleFontSize":15,"titleColor":"#444","titlePadding":7,"labelColor":"#444","labelFontSize":12.5,"tickColor":"black","domainColor":"black","grid":false,"labelOverlap":false,"labelPadding":5,"tickCount":200,"tickSize":{"condition":{"test":"datum.value % 20 === 0","value":8},"value":4},
"values":[2216,2220,2224,2228,2232,2236,2240,2244,2248,2252,2256,2260,2264,2268,2272,2276,2280,2284,2288,2292,2296,2300,2304,2308,2312,2316,2320,2324,2328,2332,2336,2340,2344,2348,2352,2356],"labelExpr":"datum.value % 20 === 0 ? format(datum.value/1000,'.3f')+' k' : ''"}},"y2":{"field":"p2"},
"color":{"field":"v","type":"quantitative","scale":{"domain":[0,4.3,8.9,11.9],"range":["#0b0000","#ff0000","#ffff00","#ffffff"],"interpolate":"rgb"},
"legend":{"orient":"none","legendX":-103,"legendY":21,"title":"Volume","titleFontStyle":"italic","titleFontWeight":"normal","titleFontSize":15,"titleColor":"#444","titlePadding":3,"gradientLength":247,"gradientThickness":29,"gradientStrokeColor":"black","gradientStrokeWidth":1,"labelFontSize":13,"labelColor":"#444","labelOffset":8,"labelOverlap":false,"values":[0,2,4,6,8,10],"labelExpr":"datum.value === 0 ? '0' : datum.value === 10 ? '10.0 M' : datum.value + ' M'"}}}},
{"data":{"name":"dark"},"mark":{"type":"rect","height":21,"clip":true},
"encoding":{"x":{"field":"m","type":"quantitative"},"x2":{"field":"e"},"y":{"field":"p","type":"quantitative"},"color":{"field":"v","type":"quantitative"}}},
{"data":{"name":"cols"},"transform":[{"fold":["2309","2299","2289","2279","2269","2259"],"as":["p","v"]}],"mark":{"type":"rect","width":7.7,"height":21},
"encoding":{"x":{"field":"m","type":"quantitative"},"y":{"field":"p","type":"quantitative"},"color":{"field":"v","type":"quantitative"}}},
{"data":{"name":"price"},"mark":{"type":"line","color":"#3a78a8","strokeWidth":2.5},"encoding":{"x":{"field":"m","type":"quantitative"},"y":{"field":"p","type":"quantitative"}}}
]},
{"width":1086,"height":213,"view":{"stroke":"#e6e6e6"},
"layer":[
{"data":{"values":[{"m":443,"v":0.24,"label":"MATERIAL"},{"m":443,"v":0.075,"label":"INDICATORS"}]},"mark":{"type":"text","align":"left","font":"Liberation Sans","fontWeight":"bold","fontSize":29,"color":"#dfe3e5"},
"encoding":{"text":{"field":"label"},"x":{"field":"m","type":"quantitative","scale":{"domain":[324,1761],"nice":false,"zero":false},
"axis":{"title":"Date (UTC)","titleFontStyle":"italic","titleFontWeight":"normal","titleFontSize":15,"titleColor":"#444","titlePadding":7,"labelColor":"#444","labelFontSize":12,"labelPadding":10,"tickSize":8,"tickColor":"black","domainColor":"black","gridColor":"#e6e6e6","grid":true,"values":[480,720,960,1200,1440,1680],"labelExpr":"datum.value === 480 ? '8h' : datum.value === 720 ? '12h' : datum.value === 960 ? '16h' : datum.value === 1200 ? '20h' : datum.value === 1440 ? '9/08' : '4h'"}},
"y":{"field":"v","type":"quantitative","scale":{"domain":[0,1],"nice":false,"zero":false},
"axis":{"title":"Normalized CVD [arb. u.]","titleFontStyle":"italic","titleFontWeight":"normal","titleFontSize":15,"titleColor":"#444","titlePadding":8,"labelColor":"#444","labelFontSize":12,"labelPadding":6,"labelOverlap":false,"tickCount":200,"tickColor":"black","domainColor":"black","grid":true,"gridColor":"#e6e6e6","gridOpacity":{"condition":{"test":"abs(round(datum.value*5)-datum.value*5) < 0.001","value":1},"value":0},"tickSize":{"condition":{"test":"abs(round(datum.value*5)-datum.value*5) < 0.001","value":8},"value":4},
"values":[0,0.04,0.08,0.12,0.16,0.2,0.24,0.28,0.32,0.36,0.4,0.44,0.48,0.52,0.56,0.6,0.64,0.68,0.72,0.76,0.8,0.84,0.88,0.92,0.96,1],
"labelExpr":"datum.value === 0 ? '0' : datum.value === 1 ? '1.000' : abs(round(datum.value*5)-datum.value*5) < 0.001 ? format(datum.value*1000,'.2f')+' m' : ''"}}}},
{"data":{"values":[{"m":358,"v":0},{"m":378,"v":0.25},{"m":426,"v":0.03}]},"mark":{"type":"line","color":"#e8ecee","strokeWidth":2},"encoding":{"x":{"field":"m","type":"quantitative"},"y":{"field":"v","type":"quantitative"}}},
{"data":{"name":"lines"},"mark":{"type":"line","strokeWidth":2,"clip":true},
"encoding":{"x":{"field":"m","type":"quantitative"},"y":{"field":"v","type":"quantitative"},"color":{"field":"s","type":"nominal","scale":{"domain":["a","b","c","d","e","f"],"range":["#1f77b4","#ff7f0e","#2ca02c","#d62728","#9467bd","#8c564b"]},
"legend":{"orient":"none","legendX":-96,"legendY":288,"direction":"horizontal","columns":6,"title":null,"symbolType":"stroke","symbolSize":576,"symbolStrokeWidth":2,"labelFontSize":12,"labelColor":"#444","gridAlign":"none","columnPadding":0,"labelOffset":5,"padding":14,"strokeColor":"#eeeeee","fillColor":"white",
"labelExpr":"datum.label === 'a' ? 'all orders' : datum.label === 'b' ? '$100 < i < $1k' : datum.label === 'c' ? '$1k < i < $10k' : datum.label === 'd' ? '$10k < i < $100k' : datum.label === 'e' ? '$100k < i < $1M' : '$1M < i < $10M'"}}}},
{"data":{"values":[{"m":1270,"v":0.93,"label":"곰지네 트레이딩 CVD"}]},"mark":{"type":"text","font":"Noto Sans CJK KR","fontSize":27,"color":"black"},"encoding":{"x":{"field":"m","type":"quantitative"},"y":{"field":"v","type":"quantitative"},"text":{"field":"label"}}},
{"data":{"values":[{"m":1247,"v":0.8,"label":"Powered By Material Indictors"}]},"mark":{"type":"text","font":"Noto Sans CJK KR","fontSize":26,"color":"black"},"encoding":{"x":{"field":"m","type":"quantitative"},"y":{"field":"v","type":"quantitative"},"text":{"field":"label"}}},
{"data":{"values":[{"m":1603,"v":-0.39,"label":"https://t.me/oddstrading2"}]},"mark":{"type":"text","font":"Noto Sans CJK KR","fontSize":25.7,"color":"black"},"encoding":{"x":{"field":"m","type":"quantitative"},"y":{"field":"v","type":"quantitative"},"text":{"field":"label"}}}
]}
]}
